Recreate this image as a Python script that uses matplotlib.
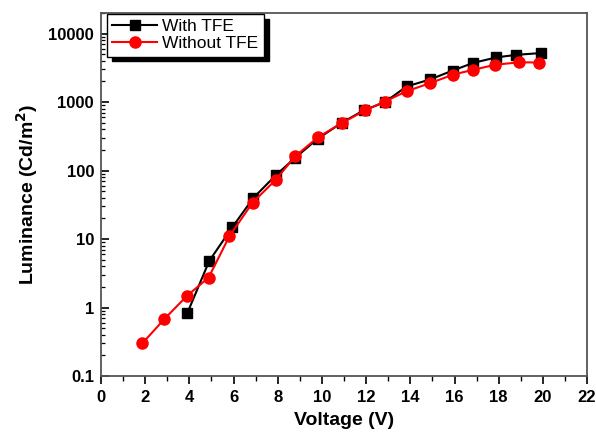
import matplotlib

matplotlib.use("Agg")
import matplotlib.pyplot as plt
from matplotlib.ticker import LogLocator, FixedLocator, NullFormatter, MultipleLocator

plt.rcParams["font.family"] = ["Liberation Sans", "DejaVu Sans"]

# With TFE (black squares)
v_with = [3.9, 4.9, 5.95, 6.9, 7.92, 8.8, 9.8, 10.9, 11.9, 12.85, 13.83, 14.89, 15.91, 16.85, 17.9, 18.8, 19.9]
lum_with = [0.82, 4.8, 15, 40, 86, 155, 290, 500, 760, 1000, 1690, 2140, 2880, 3740, 4500, 4900, 5200]

# Without TFE (red circles)
v_without = [1.87, 2.87, 3.88, 4.87, 5.81, 6.86, 7.92, 8.78, 9.83, 10.92, 11.95, 12.85, 13.83, 14.89,
             15.94, 16.82, 17.83, 18.93, 19.83]
lum_without = [0.3, 0.68, 1.47, 2.74, 11, 34, 74, 161, 308, 499, 755, 1020, 1440, 1890,
               2520, 2950, 3500, 3820, 3780]

fig = plt.figure(figsize=(5.96, 4.41), dpi=100)
ax = fig.add_axes([0.1695, 0.1474, 0.8155, 0.8231])

ax.plot(v_with, lum_with, color="black", lw=1.5, marker="s", ms=7, label="With TFE", zorder=3)
ax.plot(v_without, lum_without, color="red", lw=1.5, marker="o", ms=8, label="Without TFE", zorder=4)

ax.set_yscale("log")
ax.set_xlim(0, 22)
ax.set_ylim(0.1, 2e4)
ax.xaxis.set_major_locator(MultipleLocator(2))
ax.xaxis.set_minor_locator(MultipleLocator(1))
ax.yaxis.set_major_locator(FixedLocator([0.1, 1, 10, 100, 1000, 10000]))
ax.yaxis.set_major_formatter(matplotlib.ticker.FuncFormatter(lambda v, p: f"{v:g}"))
ax.yaxis.set_minor_locator(LogLocator(base=10, subs=range(2, 10), numticks=20))
ax.yaxis.set_minor_formatter(NullFormatter())

ax.tick_params(axis="x", which="major", direction="out", length=6, width=1.2, top=False,
               labelsize=12, pad=4)
ax.tick_params(axis="x", which="minor", direction="out", length=3.5, width=1.0, top=False)
ax.tick_params(axis="y", which="major", direction="in", length=6, width=1.2, right=False,
               labelsize=12, pad=5)
ax.tick_params(axis="y", which="minor", direction="in", length=3, width=0.9, right=False)
for lab in ax.get_xticklabels() + ax.get_yticklabels():
    lab.set_fontweight("bold")

for side in ["left", "bottom", "top", "right"]:
    ax.spines[side].set_color("#555555")
    ax.spines[side].set_linewidth(1.3)

ax.set_xlabel("Voltage (V)", fontsize=14, fontweight="bold", labelpad=5)
ax.set_ylabel("Luminance (Cd/m$^\\mathbf{2}$)", fontsize=14, fontweight="bold", labelpad=6)

leg = ax.legend(loc="upper left", bbox_to_anchor=(0.012, 0.997), fontsize=12.5, frameon=True,
                fancybox=False, borderaxespad=0.0, handlelength=2.6, handletextpad=0.3,
                borderpad=0.3, labelspacing=0.1,
                shadow={"color": "black", "alpha": 1, "ox": 3.5, "oy": -3.5})
leg.get_frame().set_edgecolor("black")
leg.get_frame().set_linewidth(1.0)

fig.savefig("out.png", dpi=100)
